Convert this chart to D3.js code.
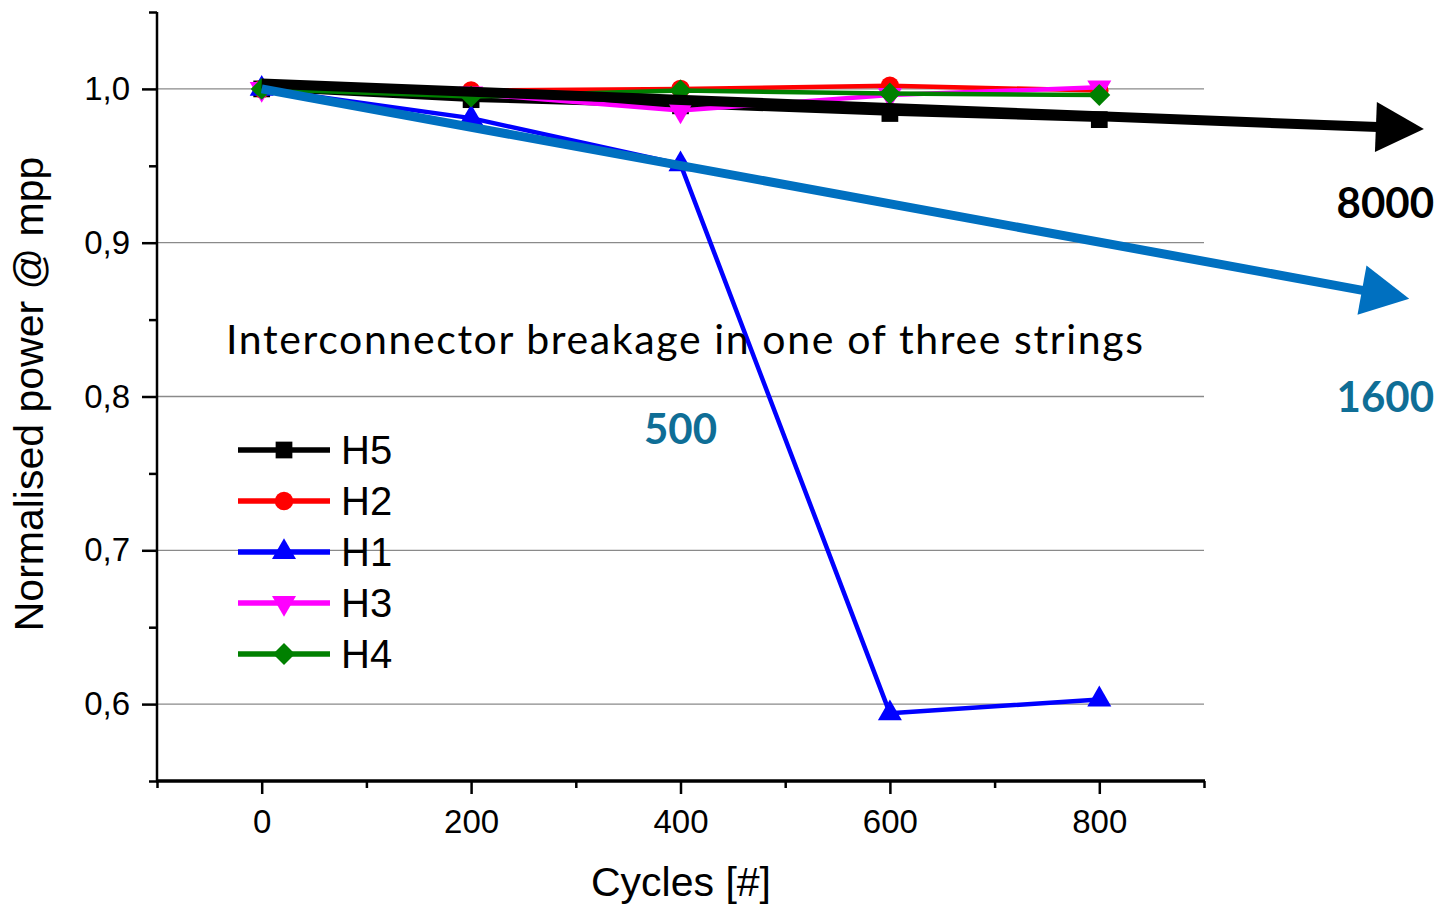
<!DOCTYPE html>
<html>
<head>
<meta charset="utf-8">
<script src="https://cdn.jsdelivr.net/npm/d3@7"></script>
<style>
  html, body { margin: 0; padding: 0; background: #fff; }
  svg { display: block; }
</style>
</head>
<body>
<svg id="chart" width="1441" height="909"></svg>
<script>
// Thermal-cycling results: normalised power at mpp per sample
const cycles = [0, 200, 400, 600, 800];
const seriesNames = ["H5", "H2", "H1", "H3", "H4"];
const seriesColors = ["#000000", "#ff0000", "#0000ff", "#ff00ff", "#008000"];
const seriesSymbols = ["square", "circle", "triangleUp", "triangleDown", "diamond"];
const valuesH5 = [1.000, 0.993, 0.989, 0.984, 0.980];
const valuesH2 = [1.000, 0.999, 1.000, 1.002, 0.999];
const valuesH1 = [1.000, 0.981, 0.951, 0.594, 0.603];
const valuesH3 = [1.000, 0.997, 0.986, 0.996, 1.001];
const valuesH4 = [1.000, 0.995, 0.999, 0.997, 0.996];
const seriesValues = [valuesH5, valuesH2, valuesH1, valuesH3, valuesH4];

// Extrapolated degradation trends (cycles, normalised power)
const trendLabels = ["8000", "1600"];
const trendColors = ["#000000", "#0070c0"];
const trendStart = [[0, 1.0035], [0, 1.000]];
const trendEnd = [[1110, 0.974], [1096, 0.8635]];

const xTicks = [0, 200, 400, 600, 800];
const xMinorTicks = [-100, 100, 300, 500, 700, 900];
const yTicks = [0.6, 0.7, 0.8, 0.9, 1.0];
const yMinorTicks = [0.55, 0.65, 0.75, 0.85, 0.95, 1.05];

const svg = d3.select("#chart");
const plot = { left: 157, right: 1204, top: 12, bottom: 781 };

const x = d3.scaleLinear().domain([-100, 900]).range([plot.left, plot.right]);
const y = d3.scaleLinear().domain([0.55, 1.05]).range([plot.bottom, plot.top]);

const fmtY = d => d3.format(".1f")(d).replace(".", ",");

// horizontal grid
svg.append("g")
  .selectAll("line")
  .data(yTicks)
  .join("line")
  .attr("x1", plot.left).attr("x2", plot.right)
  .attr("y1", d => y(d)).attr("y2", d => y(d))
  .attr("stroke", "#8a8a8a").attr("stroke-width", 1.3);

// x axis
const xAxis = svg.append("g").attr("transform", `translate(0,${plot.bottom})`);
xAxis.call(d3.axisBottom(x).tickValues(xTicks).tickSize(13).tickPadding(16).tickFormat(d3.format("d")));
xAxis.append("g").call(d3.axisBottom(x).tickValues(xMinorTicks).tickSize(7).tickFormat(""));
xAxis.selectAll(".domain").remove();
xAxis.selectAll(".tick line").attr("stroke", "#000").attr("stroke-width", 2.5);
xAxis.selectAll(".tick text")
  .attr("font-family", "Liberation Sans, Arial, sans-serif")
  .attr("font-size", 33).attr("fill", "#000");
svg.append("line")
  .attr("x1", plot.left - 1).attr("x2", plot.right + 1)
  .attr("y1", plot.bottom).attr("y2", plot.bottom)
  .attr("stroke", "#000").attr("stroke-width", 3.5);

// y axis
const yAxis = svg.append("g").attr("transform", `translate(${plot.left},0)`);
yAxis.call(d3.axisLeft(y).tickValues(yTicks).tickSize(15).tickPadding(12).tickFormat(fmtY));
yAxis.append("g").call(d3.axisLeft(y).tickValues(yMinorTicks).tickSize(8).tickFormat(""));
yAxis.selectAll(".domain").remove();
yAxis.selectAll(".tick line").attr("stroke", "#000").attr("stroke-width", 2.5);
yAxis.selectAll(".tick text")
  .attr("font-family", "Liberation Sans, Arial, sans-serif")
  .attr("font-size", 33).attr("fill", "#000");
svg.append("line")
  .attr("x1", plot.left).attr("x2", plot.left)
  .attr("y1", plot.top).attr("y2", plot.bottom + 1)
  .attr("stroke", "#000").attr("stroke-width", 2.5);

// axis titles
svg.append("text")
  .attr("x", 681).attr("y", 896)
  .attr("text-anchor", "middle")
  .attr("font-family", "Liberation Sans, Arial, sans-serif")
  .attr("font-size", 41)
  .text("Cycles [#]");
svg.append("text")
  .attr("transform", "translate(43,394) rotate(-90)")
  .attr("text-anchor", "middle")
  .attr("font-family", "Liberation Sans, Arial, sans-serif")
  .attr("font-size", 41)
  .text("Normalised power @ mpp");

// marker shapes
function markerPath(kind) {
  switch (kind) {
    case "square": return d3.symbol(d3.symbolSquare, 280)();
    case "circle": return d3.symbol(d3.symbolCircle, 270)();
    case "triangleUp":
    case "triangleDown": return d3.symbol(d3.symbolTriangle, 250)();
    case "diamond": return d3.symbol(d3.symbolSquare, 240)();
  }
}
function markerRotation(kind) {
  if (kind === "triangleDown") return 180;
  if (kind === "diamond") return 45;
  return 0;
}

const line = d3.line().x(d => x(d[0])).y(d => y(d[1]));

seriesNames.forEach((name, i) => {
  const pts = cycles.map((c, j) => [c, seriesValues[i][j]]);
  const g = svg.append("g");
  g.append("path")
    .attr("d", line(pts))
    .attr("fill", "none")
    .attr("stroke", seriesColors[i])
    .attr("stroke-width", 4.5)
    .attr("stroke-linejoin", "round");
  g.selectAll("path.m")
    .data(pts)
    .join("path")
    .attr("class", "m")
    .attr("d", markerPath(seriesSymbols[i]))
    .attr("transform", d => `translate(${x(d[0])},${y(d[1])}) rotate(${markerRotation(seriesSymbols[i])})`)
    .attr("fill", seriesColors[i]);
});

// legend
const legend = svg.append("g");
seriesNames.forEach((name, i) => {
  const cy = 450 + i * 51;
  legend.append("line")
    .attr("x1", 238).attr("x2", 330).attr("y1", cy).attr("y2", cy)
    .attr("stroke", seriesColors[i]).attr("stroke-width", 5.5);
  legend.append("path")
    .attr("d", markerPath(seriesSymbols[i]))
    .attr("transform", `translate(284,${cy}) rotate(${markerRotation(seriesSymbols[i])})`)
    .attr("fill", seriesColors[i]);
  legend.append("text")
    .attr("x", 341).attr("y", cy + 14)
    .attr("font-family", "Liberation Sans, Arial, sans-serif")
    .attr("font-size", 40)
    .text(name);
});

// annotation text
svg.append("text")
  .attr("x", 226).attr("y", 354)
  .attr("font-family", "Lato, 'Open Sans', sans-serif")
  .attr("font-size", 41)
  .attr("textLength", 917).attr("lengthAdjust", "spacing")
  .text("Interconnector breakage in one of three strings");

// trend arrows
trendLabels.forEach((lab, i) => {
  const x0 = x(trendStart[i][0]), y0 = y(trendStart[i][1]);
  const x1 = x(trendEnd[i][0]), y1 = y(trendEnd[i][1]);
  const ang = Math.atan2(y1 - y0, x1 - x0);
  const headLen = 48, headHalf = 25;
  const bx = x1 - headLen * Math.cos(ang), by = y1 - headLen * Math.sin(ang);
  svg.append("line")
    .attr("x1", x0).attr("y1", y0).attr("x2", bx + 2 * Math.cos(ang)).attr("y2", by + 2 * Math.sin(ang))
    .attr("stroke", trendColors[i]).attr("stroke-width", i === 0 ? 10 : 9);
  const nx = -Math.sin(ang), ny = Math.cos(ang);
  svg.append("path")
    .attr("d", `M${x1},${y1}L${bx + headHalf * nx},${by + headHalf * ny}L${bx - headHalf * nx},${by - headHalf * ny}Z`)
    .attr("fill", trendColors[i]);
});

const boldLabels = [
  { text: "8000", color: "#000000", px: 1434, py: 218, anchor: "end" },
  { text: "1600", color: "#0f6e96", px: 1434, py: 412, anchor: "end" },
  { text: "500", color: "#0f6e96", px: x(400), py: 444, anchor: "middle" }
];
svg.append("g")
  .selectAll("text")
  .data(boldLabels)
  .join("text")
  .attr("x", d => d.px).attr("y", d => d.py)
  .attr("text-anchor", d => d.anchor)
  .attr("font-family", "Lato, 'Open Sans', sans-serif")
  .attr("font-weight", "bold")
  .attr("font-size", 42)
  .attr("fill", d => d.color)
  .text(d => d.text);
</script>
</body>
</html>
